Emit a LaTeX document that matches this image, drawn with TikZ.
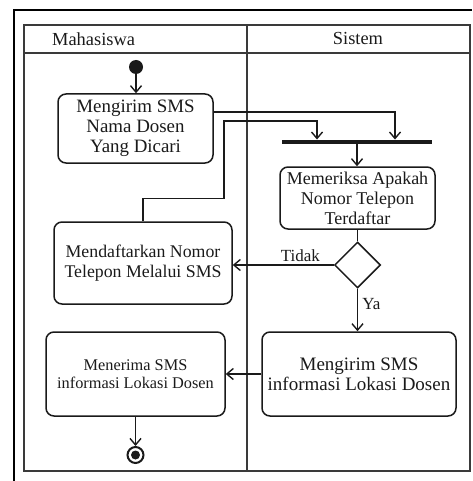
\documentclass[tikz,border=0pt]{standalone}
\usepackage{fontspec}
\setmainfont{Liberation Serif}
\usetikzlibrary{shapes.geometric,arrows.meta}
\definecolor{ink}{HTML}{1A1A1A}
\definecolor{lane}{HTML}{3A3A3A}
\tikzset{
  act/.style={draw=ink, line width=1.5pt, rounded corners=8pt, align=center, inner sep=0pt, text=ink},
  arr/.style={draw=ink, line width=1.5pt, -{Straight Barb[length=6.5pt,width=11pt,line width=1.4pt]}},
  ln/.style={draw=ink, line width=1.5pt},
  lbl/.style={text=ink, font=\fontsize{17}{19}\selectfont, inner sep=0pt},
}
\begin{document}
\begin{tikzpicture}[x=1pt,y=-1pt]
\useasboundingbox (0,0) rectangle (472,481);
% outer frame
\draw[black, line width=2.8pt] (14,481) -- (14,10) -- (472,10);
% swimlanes
\draw[lane, line width=1.6pt] (24,25) rectangle (470,471);
\draw[lane, line width=1.6pt] (24,53) -- (470,53);
\draw[lane, line width=1.6pt] (247,25) -- (247,471);
\node[lbl, font=\fontsize{18.4}{20}\selectfont, anchor=west] (h1) at (52,39) {Mahasiswa};
\node[lbl, font=\fontsize{18.4}{20}\selectfont] (h2) at (358,39) {Sistem};
% nodes
\node[circle, fill=ink, minimum size=14pt, inner sep=0pt] (start) at (136,67) {};
\node[act, minimum width=155pt, minimum height=69pt, font=\fontsize{18.9}{20}\selectfont] (kirim1) at (135.5,128.5) {Mengirim SMS\\Nama Dosen\\Yang Dicari};
\node[fill=ink, minimum width=150pt, minimum height=4.5pt, inner sep=0pt] (bar) at (357,142) {};
\node[act, minimum width=155pt, minimum height=62pt, font=\fontsize{18}{20}\selectfont] (periksa) at (357.5,198) {Memeriksa Apakah\\Nomor Telepon\\Terdaftar};
\node[diamond, draw=ink, line width=1.5pt, minimum width=46pt, minimum height=46pt, inner sep=0pt] (dia) at (357.5,265) {};
\node[act, minimum width=178pt, minimum height=82pt, font=\fontsize{17.8}{20}\selectfont] (daftar) at (143,263) {Mendaftarkan Nomor\\Telepon Melalui SMS};
\node[act, minimum width=194pt, minimum height=84pt, font=\fontsize{19}{20}\selectfont] (kirim2) at (359,374) {Mengirim SMS\\informasi Lokasi Dosen};
\node[act, minimum width=179pt, minimum height=84pt, font=\fontsize{16.3}{18}\selectfont] (terima) at (135.5,374) {Menerima SMS\\informasi Lokasi Dosen};
\node[circle, draw=ink, line width=2pt, minimum size=16pt, inner sep=0pt] (end) at (135.5,455) {};
\node[circle, fill=ink, minimum size=9pt, inner sep=0pt] (endin) at (end.center) {};
% connectors
\draw[arr] (start) -- (start |- kirim1.north);
\draw[arr] ([yshift=16.5pt]kirim1.east) -| ([xshift=38pt]bar.north);
\draw[arr] (daftar.north) -- ++(0,-23) -- ++(81,0) -- ++(0,-77) -| ([xshift=-40pt]bar.north);
\draw[arr] (bar.south) -- (bar.south |- periksa.north);
\draw[ln] (periksa.south) -- (dia.north);
\draw[arr] (dia.west) -- (dia.west -| daftar.east) node[lbl, pos=0.33, above=3pt] {Tidak};
\draw[arr] (dia.south) -- (dia.south |- kirim2.north) node[lbl, pos=0.35, right=4pt] {Ya};
\draw[arr] (kirim2.west) -- (terima.east);
\draw[arr] (terima.south) -- (end.north);
\end{tikzpicture}
\end{document}
